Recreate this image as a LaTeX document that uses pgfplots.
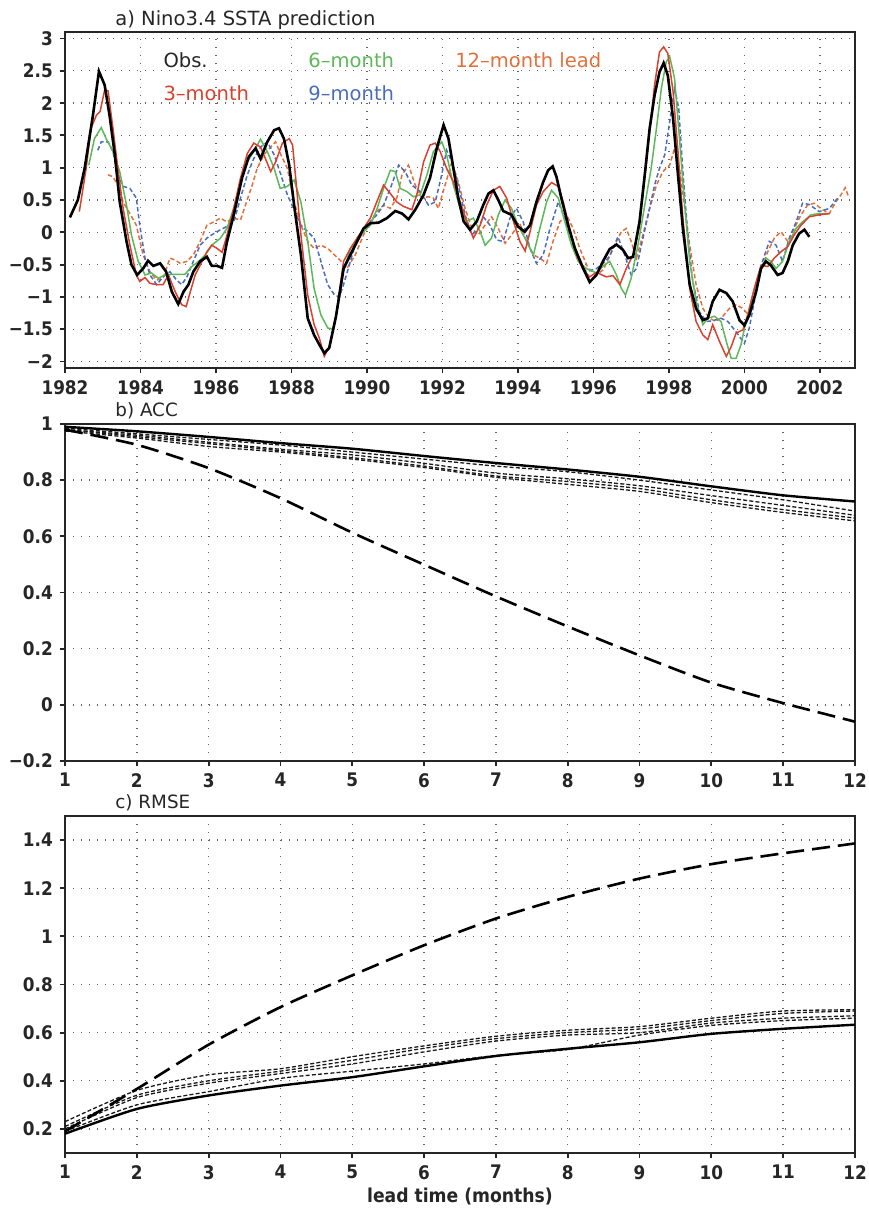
\documentclass[border=0pt]{standalone}
\usepackage{fontspec}
\setmainfont{DejaVu Sans}
\newfontfamily\condfont{DejaVu Sans Condensed}
\usepackage{pgfplots}
\pgfplotsset{compat=1.18}
\definecolor{cred}{HTML}{D9412F}
\definecolor{cgreen}{HTML}{5DB85A}
\definecolor{cblue}{HTML}{4A6CC0}
\definecolor{corange}{HTML}{E2703C}
\pgfplotsset{
  base/.style={scale only axis, anchor=south west, width=395bp,
    axis line style={line width=1.3bp, black!85},
    tick align=outside, tick pos=left,
    major tick length=2.6bp, tick style={line width=0.9bp, black!85},
    grid=major, major grid style={black!60, line width=0.7bp, dash pattern=on 0.7bp off 3.3bp},
    clip=false,
    ticklabel style={font=\condfont\bfseries\fontsize{9.4}{10}\selectfont, text=black!85},
  },
}
\tikzset{
  sd/.style={black!90, line width=0.65bp, dash pattern=on 2bp off 1.1bp, smooth, tension=0.4},
  so/.style={black, line width=1.2bp, smooth, tension=0.4},
  ld/.style={black, line width=1.3bp, dash pattern=on 9bp off 4bp, smooth, tension=0.4},
  ttl/.style={anchor=base west, inner sep=0pt, font=\fontsize{9.8}{10}\selectfont, text=black!85},
  lg/.style={anchor=west, inner sep=0pt, font=\fontsize{9.8}{10}\selectfont},
}
\begin{document}
\begin{tikzpicture}
\path[use as bounding box] (0,0) rectangle (434.5bp,604bp);
% ---------------- panel a ----------------
\begin{axis}[base, at={(32.5bp,420bp)}, height=168bp,
  xmin=1982, xmax=2002.93, ymin=-2.1, ymax=3.1,
  xtick={1982,1984,1986,1988,1990,1992,1994,1996,1998,2000,2002},
  xticklabels={1982,1984,1986,1988,1990,1992,1994,1996,1998,2000,2002},
  ytick={-2,-1.5,-1,-0.5,0,0.5,1,1.5,2,2.5,3},
  yticklabels={−2,−1.5,−1,−0.5,0,0.5,1,1.5,2,2.5,3}]
\addplot[corange, line width=0.75bp, dash pattern=on 2.2bp off 1.3bp] coordinates {(1983.14,0.89)(1983.27,0.86)(1983.4,0.73)(1983.54,0.47)(1983.72,0.29)(1983.89,0.11)(1984.07,-0.35)(1984.25,-0.61)(1984.43,-0.74)(1984.6,-0.71)(1984.78,-0.4)(1984.92,-0.43)(1985.05,-0.48)(1985.23,-0.45)(1985.4,-0.35)(1985.58,-0.14)(1985.76,0.11)(1985.94,0.16)(1986.12,0.22)(1986.29,0.16)(1986.47,0.22)(1986.65,0.19)(1986.78,0.42)(1986.96,0.73)(1987.09,0.99)(1987.27,1.2)(1987.45,1.32)(1987.58,1.4)(1987.72,1.2)(1987.89,0.99)(1988.07,0.47)(1988.25,0.11)(1988.43,-0.14)(1988.6,-0.25)(1988.78,-0.2)(1988.96,-0.25)(1989.14,-0.35)(1989.32,-0.45)(1989.47,-0.56)(1989.69,-0.35)(1989.91,-0.04)(1990.09,0.16)(1990.26,0.32)(1990.44,0.42)(1990.62,0.37)(1990.79,0.53)(1990.93,0.89)(1991.1,1.04)(1991.28,0.73)(1991.45,0.53)(1991.63,0.55)(1991.76,0.53)(1991.89,0.37)(1992.07,0.73)(1992.25,1.09)(1992.42,0.78)(1992.6,0.37)(1992.78,0.06)(1992.95,-0.04)(1993.13,0.11)(1993.3,0.24)(1993.48,0.06)(1993.66,-0.17)(1993.83,-0.04)(1994.05,0.14)(1994.23,-0.14)(1994.41,-0.35)(1994.58,-0.4)(1994.76,-0.48)(1994.93,-0.14)(1995.11,0.16)(1995.29,0.27)(1995.46,0.06)(1995.64,-0.25)(1995.86,-0.56)(1996.08,-0.66)(1996.26,-0.58)(1996.43,-0.37)(1996.61,-0.14)(1996.74,0.01)(1996.87,0.06)(1997.0,-0.14)(1997.14,-0.4)(1997.31,-0.04)(1997.49,0.37)(1997.67,0.73)(1997.84,0.94)(1998.02,1.04)(1998.15,1.3)(1998.28,0.99)(1998.41,0.42)(1998.55,-0.2)(1998.72,-0.81)(1998.9,-1.18)(1999.07,-1.33)(1999.25,-1.38)(1999.43,-1.3)(1999.6,-1.18)(1999.78,-1.12)(1999.96,-1.18)(2000.11,-1.28)(2000.26,-0.97)(2000.44,-0.56)(2000.62,-0.3)(2000.79,-0.09)(2000.97,0.01)(2001.15,-0.14)(2001.32,0.06)(2001.5,0.27)(2001.67,0.42)(2001.85,0.45)(2002.07,0.35)(2002.25,0.29)(2002.42,0.47)(2002.56,0.58)(2002.67,0.69)(2002.76,0.55)};
\addplot[cblue, line width=0.75bp, dash pattern=on 2.2bp off 1.3bp] coordinates {(1982.87,1.27)(1982.96,1.4)(1983.14,1.4)(1983.27,1.25)(1983.4,0.89)(1983.54,0.71)(1983.72,0.68)(1983.89,0.53)(1983.98,0.11)(1984.12,-0.4)(1984.25,-0.66)(1984.43,-0.81)(1984.6,-0.69)(1984.78,-0.61)(1984.96,-0.74)(1985.09,-0.81)(1985.23,-0.69)(1985.4,-0.45)(1985.58,-0.2)(1985.76,-0.09)(1985.94,-0.02)(1986.12,0.04)(1986.29,0.09)(1986.47,0.16)(1986.65,0.53)(1986.83,0.89)(1987.0,1.14)(1987.18,1.32)(1987.36,1.4)(1987.54,1.2)(1987.72,0.89)(1987.89,0.58)(1988.07,0.35)(1988.25,0.11)(1988.43,0.01)(1988.6,-0.09)(1988.78,-0.45)(1988.96,-0.81)(1989.14,-0.97)(1989.27,-1.0)(1989.38,-0.81)(1989.56,-0.45)(1989.74,-0.09)(1989.91,0.01)(1990.09,0.16)(1990.26,0.27)(1990.44,0.42)(1990.62,0.68)(1990.84,1.04)(1991.01,0.94)(1991.19,0.73)(1991.41,0.63)(1991.63,0.42)(1991.81,0.47)(1991.98,0.89)(1992.11,1.27)(1992.25,1.09)(1992.42,0.73)(1992.6,0.27)(1992.78,-0.04)(1992.95,0.06)(1993.08,0.24)(1993.26,0.11)(1993.44,-0.12)(1993.61,-0.14)(1993.79,0.22)(1993.96,0.37)(1994.14,0.16)(1994.32,-0.25)(1994.49,-0.48)(1994.67,-0.35)(1994.85,0.06)(1995.07,0.47)(1995.24,0.22)(1995.37,-0.09)(1995.6,-0.45)(1995.81,-0.61)(1996.08,-0.56)(1996.26,-0.48)(1996.43,-0.37)(1996.65,-0.07)(1996.83,-0.35)(1997.0,-0.66)(1997.14,-0.56)(1997.27,-0.2)(1997.45,0.27)(1997.62,0.73)(1997.75,0.99)(1997.89,1.2)(1998.02,1.71)(1998.15,2.23)(1998.26,1.92)(1998.37,0.94)(1998.5,-0.04)(1998.63,-0.76)(1998.81,-1.23)(1998.99,-1.38)(1999.16,-1.37)(1999.38,-1.33)(1999.56,-1.38)(1999.78,-1.54)(2000.0,-1.72)(2000.13,-1.48)(2000.31,-0.92)(2000.48,-0.45)(2000.66,-0.14)(2000.84,-0.2)(2001.01,-0.45)(2001.19,-0.09)(2001.37,0.16)(2001.54,0.45)(2001.72,0.43)(2001.98,0.32)(2002.25,0.37)(2002.47,0.53)};
\addplot[cgreen, line width=0.75bp] coordinates {(1982.63,1.04)(1982.78,1.45)(1982.96,1.62)(1983.09,1.45)(1983.27,1.25)(1983.45,0.94)(1983.63,0.42)(1983.76,-0.04)(1983.94,-0.45)(1984.12,-0.66)(1984.29,-0.63)(1984.47,-0.71)(1984.65,-0.66)(1984.87,-0.65)(1985.18,-0.65)(1985.36,-0.53)(1985.54,-0.45)(1985.72,-0.35)(1985.89,-0.2)(1986.12,-0.09)(1986.29,0.06)(1986.47,0.37)(1986.65,0.78)(1986.83,1.09)(1987.05,1.3)(1987.18,1.44)(1987.36,1.25)(1987.54,0.99)(1987.7,0.68)(1987.89,0.71)(1988.07,0.81)(1988.25,0.47)(1988.43,-0.14)(1988.6,-0.87)(1988.78,-1.28)(1988.96,-1.48)(1989.1,-1.5)(1989.21,-1.2)(1989.38,-0.61)(1989.56,-0.25)(1989.74,-0.14)(1989.91,0.01)(1990.09,0.11)(1990.26,0.35)(1990.44,0.68)(1990.62,0.96)(1990.75,0.94)(1990.88,0.68)(1991.06,0.63)(1991.23,0.55)(1991.41,0.58)(1991.59,0.89)(1991.76,1.25)(1991.98,1.4)(1992.11,1.2)(1992.29,0.73)(1992.47,0.37)(1992.64,0.17)(1992.82,0.22)(1993.0,0.01)(1993.13,-0.2)(1993.3,-0.09)(1993.48,0.27)(1993.66,0.5)(1993.83,0.37)(1994.0,0.11)(1994.23,-0.14)(1994.41,-0.35)(1994.58,0.06)(1994.76,0.47)(1994.89,0.65)(1995.07,0.53)(1995.24,0.17)(1995.42,-0.2)(1995.6,-0.45)(1995.81,-0.56)(1996.08,-0.63)(1996.26,-0.52)(1996.43,-0.45)(1996.61,-0.66)(1996.74,-0.87)(1996.85,-0.97)(1997.0,-0.71)(1997.18,-0.2)(1997.36,0.42)(1997.53,0.99)(1997.67,1.61)(1997.8,2.23)(1997.93,2.64)(1998.02,2.72)(1998.15,2.38)(1998.28,1.45)(1998.41,0.47)(1998.55,-0.45)(1998.72,-1.07)(1998.9,-1.43)(1999.03,-1.33)(1999.21,-1.3)(1999.38,-1.38)(1999.52,-1.69)(1999.65,-1.95)(1999.78,-1.95)(1999.91,-1.74)(2000.04,-1.38)(2000.22,-0.97)(2000.4,-0.61)(2000.57,-0.4)(2000.7,-0.45)(2000.84,-0.56)(2001.01,-0.45)(2001.19,-0.14)(2001.37,0.06)(2001.54,0.16)(2001.76,0.27)(2001.98,0.29)(2002.25,0.29)};
\addplot[cred, line width=0.75bp] coordinates {(1982.38,0.32)(1982.56,0.99)(1982.69,1.61)(1982.83,1.81)(1982.93,1.87)(1983.05,2.2)(1983.14,2.19)(1983.27,1.61)(1983.4,0.99)(1983.54,0.37)(1983.72,-0.2)(1983.89,-0.66)(1983.98,-0.76)(1984.12,-0.7)(1984.25,-0.79)(1984.43,-0.81)(1984.6,-0.81)(1984.74,-0.66)(1984.92,-0.92)(1985.09,-1.12)(1985.21,-1.15)(1985.32,-0.92)(1985.45,-0.66)(1985.58,-0.51)(1985.76,-0.3)(1985.89,-0.2)(1986.03,-0.25)(1986.16,-0.31)(1986.29,-0.05)(1986.47,0.37)(1986.65,0.84)(1986.83,1.22)(1987.0,1.38)(1987.18,1.32)(1987.31,1.14)(1987.45,0.94)(1987.58,1.09)(1987.76,1.38)(1987.94,1.45)(1988.03,1.35)(1988.12,0.79)(1988.25,-0.04)(1988.43,-0.97)(1988.6,-1.43)(1988.74,-1.64)(1988.87,-1.92)(1989.0,-1.77)(1989.18,-1.3)(1989.38,-0.45)(1989.56,-0.25)(1989.74,-0.09)(1989.91,0.06)(1990.09,0.22)(1990.26,0.47)(1990.44,0.73)(1990.62,0.6)(1990.79,0.47)(1990.97,0.4)(1991.19,0.35)(1991.32,0.58)(1991.5,1.09)(1991.67,1.35)(1991.81,1.38)(1991.94,1.25)(1992.11,0.99)(1992.29,0.78)(1992.47,0.47)(1992.64,0.17)(1992.82,-0.09)(1993.0,0.11)(1993.17,0.42)(1993.35,0.65)(1993.52,0.71)(1993.7,0.53)(1993.88,0.17)(1994.05,-0.14)(1994.19,-0.29)(1994.32,0.01)(1994.49,0.42)(1994.67,0.63)(1994.89,0.77)(1995.07,0.71)(1995.2,0.47)(1995.37,0.06)(1995.55,-0.35)(1995.73,-0.58)(1995.9,-0.69)(1996.08,-0.62)(1996.34,-0.69)(1996.52,-0.67)(1996.7,-0.81)(1996.87,-0.56)(1997.05,-0.35)(1997.22,0.11)(1997.36,0.84)(1997.49,1.56)(1997.62,2.28)(1997.75,2.79)(1997.86,2.87)(1997.97,2.77)(1998.11,2.18)(1998.24,1.25)(1998.37,0.22)(1998.55,-0.87)(1998.72,-1.38)(1998.9,-1.59)(1999.03,-1.66)(1999.16,-1.43)(1999.34,-1.69)(1999.52,-1.92)(1999.65,-1.77)(1999.78,-1.56)(1999.96,-1.51)(2000.09,-1.28)(2000.26,-0.87)(2000.44,-0.51)(2000.62,-0.53)(2000.79,-0.4)(2000.97,-0.3)(2001.15,-0.22)(2001.32,-0.04)(2001.5,0.11)(2001.72,0.24)(2001.98,0.27)(2002.25,0.29)};
\addplot[black, line width=1.3bp] coordinates {(1982.13,0.23)(1982.34,0.5)(1982.52,0.99)(1982.74,1.81)(1982.9,2.49)(1983.05,2.28)(1983.18,1.81)(1983.32,1.2)(1983.45,0.47)(1983.63,-0.14)(1983.76,-0.5)(1983.91,-0.66)(1984.07,-0.56)(1984.2,-0.44)(1984.34,-0.52)(1984.52,-0.48)(1984.68,-0.61)(1984.83,-0.92)(1985.0,-1.11)(1985.14,-0.92)(1985.27,-0.81)(1985.4,-0.61)(1985.58,-0.45)(1985.76,-0.38)(1985.89,-0.52)(1986.03,-0.52)(1986.16,-0.55)(1986.29,-0.15)(1986.47,0.27)(1986.69,0.84)(1986.87,1.17)(1987.05,1.3)(1987.18,1.14)(1987.36,1.4)(1987.54,1.58)(1987.67,1.61)(1987.8,1.45)(1987.94,1.04)(1988.07,0.42)(1988.25,-0.35)(1988.43,-1.33)(1988.6,-1.59)(1988.74,-1.74)(1988.87,-1.87)(1989.0,-1.79)(1989.18,-1.3)(1989.38,-0.56)(1989.56,-0.35)(1989.74,-0.14)(1989.91,0.06)(1990.09,0.14)(1990.31,0.15)(1990.53,0.22)(1990.75,0.33)(1990.93,0.29)(1991.1,0.2)(1991.28,0.35)(1991.5,0.58)(1991.67,0.84)(1991.85,1.3)(1992.03,1.66)(1992.16,1.45)(1992.29,0.99)(1992.42,0.53)(1992.56,0.17)(1992.73,0.04)(1992.91,0.17)(1993.08,0.42)(1993.22,0.6)(1993.35,0.65)(1993.48,0.5)(1993.61,0.33)(1993.83,0.27)(1994.0,0.09)(1994.18,0.01)(1994.32,0.11)(1994.49,0.47)(1994.67,0.78)(1994.8,0.96)(1994.92,1.02)(1995.02,0.86)(1995.15,0.53)(1995.33,0.11)(1995.51,-0.25)(1995.73,-0.56)(1995.9,-0.77)(1996.08,-0.66)(1996.26,-0.44)(1996.43,-0.26)(1996.61,-0.19)(1996.78,-0.27)(1996.92,-0.4)(1997.05,-0.38)(1997.22,0.16)(1997.36,0.89)(1997.49,1.61)(1997.62,2.12)(1997.75,2.48)(1997.86,2.62)(1997.97,2.43)(1998.11,1.76)(1998.24,0.89)(1998.37,0.06)(1998.55,-0.81)(1998.72,-1.18)(1998.9,-1.36)(1999.03,-1.33)(1999.16,-1.07)(1999.34,-0.89)(1999.52,-0.94)(1999.69,-1.07)(1999.87,-1.36)(2000.0,-1.44)(2000.13,-1.28)(2000.31,-0.92)(2000.44,-0.56)(2000.57,-0.45)(2000.7,-0.51)(2000.88,-0.66)(2001.01,-0.63)(2001.15,-0.45)(2001.28,-0.2)(2001.45,-0.02)(2001.59,0.04)(2001.72,-0.07)};
\node[ttl] at ([yshift=3.2bp]rel axis cs:0.0633,1) {a) Nino3.4 SSTA prediction};
\node[lg, text=black!85] at (axis cs:1984.6,2.66) {Obs.};
\node[lg, text=cred] at (axis cs:1984.6,2.15) {3–month};
\node[lg, text=cgreen] at (axis cs:1988.44,2.66) {6–month};
\node[lg, text=cblue] at (axis cs:1988.44,2.15) {9–month};
\node[lg, text=corange] at (axis cs:1992.33,2.66) {12–month lead};
\end{axis}
% ---------------- panel b ----------------
\begin{axis}[base, at={(32.5bp,223.5bp)}, height=168.5bp,
  xmin=1, xmax=12, ymin=-0.2, ymax=1,
  xtick={1,2,3,4,5,6,7,8,9,10,11,12},
  xticklabels={1,2,3,4,5,6,7,8,9,10,11,12},
  ytick={-0.2,0,0.2,0.4,0.6,0.8,1},
  yticklabels={−0.2,0,0.2,0.4,0.6,0.8,1}]
\addplot[sd] coordinates {(1,0.985)(2,0.965)(3,0.945)(4,0.925)(5,0.90)(6,0.875)(7,0.85)(8,0.83)(9,0.80)(10,0.765)(11,0.73)(12,0.69)};
\addplot[sd] coordinates {(1,0.98)(2,0.96)(3,0.935)(4,0.91)(5,0.89)(6,0.86)(7,0.825)(8,0.805)(9,0.78)(10,0.745)(11,0.71)(12,0.675)};
\addplot[sd] coordinates {(1,0.98)(2,0.955)(3,0.93)(4,0.905)(5,0.88)(6,0.85)(7,0.815)(8,0.795)(9,0.77)(10,0.73)(11,0.695)(12,0.665)};
\addplot[sd] coordinates {(1,0.975)(2,0.95)(3,0.92)(4,0.90)(5,0.875)(6,0.845)(7,0.81)(8,0.785)(9,0.76)(10,0.72)(11,0.685)(12,0.655)};
\addplot[so] coordinates {(1,0.99)(2,0.974)(3,0.954)(4,0.932)(5,0.912)(6,0.886)(7,0.861)(8,0.838)(9,0.812)(10,0.778)(11,0.746)(12,0.724)};
\addplot[ld] coordinates {(1,0.98)(2,0.926)(3,0.843)(4,0.736)(5,0.613)(6,0.499)(7,0.386)(8,0.279)(9,0.176)(10,0.079)(11,0.006)(12,-0.06)};
\node[ttl, font=\fontsize{9.2}{10}\selectfont] at ([yshift=3.5bp]rel axis cs:0.0633,1) {b) ACC};
\end{axis}
% ---------------- panel c ----------------
\begin{axis}[base, at={(32.5bp,27.5bp)}, height=168.5bp,
  xmin=1, xmax=12, ymin=0.1, ymax=1.5,
  xtick={1,2,3,4,5,6,7,8,9,10,11,12},
  xticklabels={1,2,3,4,5,6,7,8,9,10,11,12},
  ytick={0.2,0.4,0.6,0.8,1,1.2,1.4},
  yticklabels={0.2,0.4,0.6,0.8,1,1.2,1.4},
  xlabel={lead time (months)},
  xlabel style={font=\condfont\bfseries\fontsize{9.6}{10}\selectfont, text=black!85, inner sep=0pt, yshift=-1bp}]
\addplot[sd] coordinates {(1,0.23)(2,0.36)(3,0.425)(4,0.45)(5,0.50)(6,0.545)(7,0.585)(8,0.61)(9,0.625)(10,0.66)(11,0.69)(12,0.695)};
\addplot[sd] coordinates {(1,0.21)(2,0.34)(3,0.40)(4,0.44)(5,0.485)(6,0.535)(7,0.575)(8,0.60)(9,0.615)(10,0.65)(11,0.68)(12,0.69)};
\addplot[sd] coordinates {(1,0.20)(2,0.33)(3,0.39)(4,0.43)(5,0.47)(6,0.52)(7,0.565)(8,0.59)(9,0.60)(10,0.64)(11,0.66)(12,0.67)};
\addplot[sd] coordinates {(1,0.19)(2,0.30)(3,0.355)(4,0.41)(5,0.44)(6,0.47)(7,0.505)(8,0.53)(9,0.59)(10,0.63)(11,0.65)(12,0.66)};
\addplot[so] coordinates {(1,0.18)(2,0.283)(3,0.339)(4,0.38)(5,0.415)(6,0.46)(7,0.503)(8,0.533)(9,0.56)(10,0.595)(11,0.616)(12,0.633)};
\addplot[ld] coordinates {(1,0.19)(2,0.366)(3,0.55)(4,0.706)(5,0.838)(6,0.963)(7,1.074)(8,1.164)(9,1.24)(10,1.30)(11,1.345)(12,1.386)};
\node[ttl, font=\fontsize{9.2}{10}\selectfont] at ([yshift=3.5bp]rel axis cs:0.0633,1) {c) RMSE};
\end{axis}
\end{tikzpicture}
\end{document}
